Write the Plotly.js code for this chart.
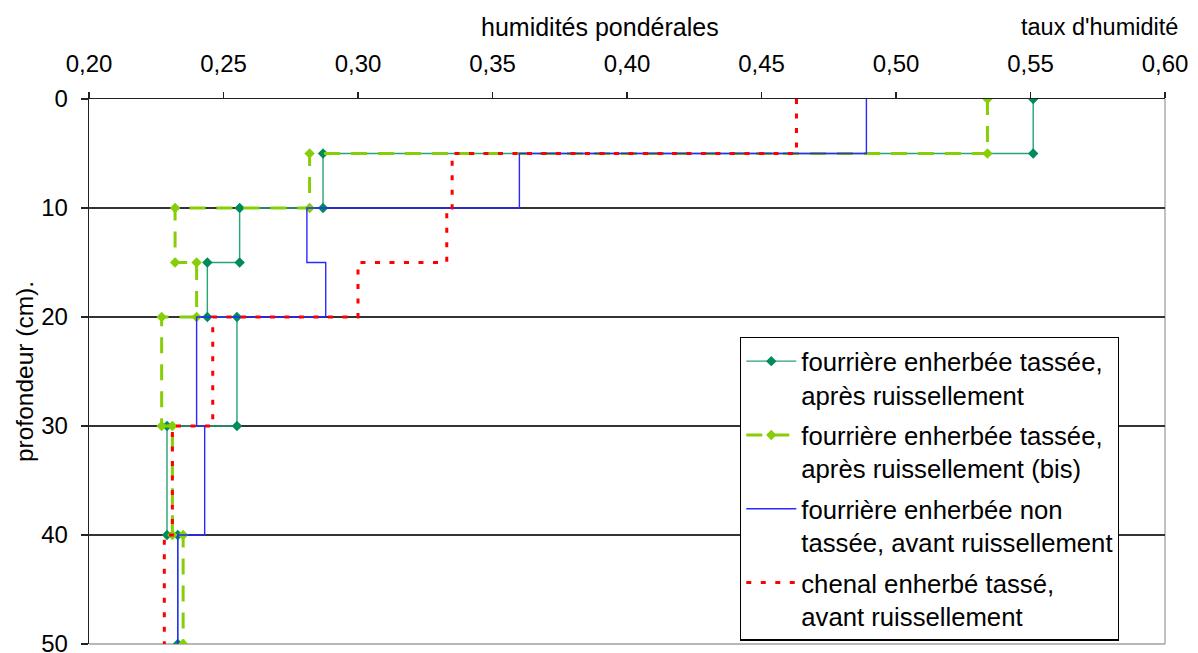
<!DOCTYPE html>
<html>
<head>
<meta charset="utf-8">
<script src="https://cdn.plot.ly/plotly-3.0.1.min.js"></script>
<style>html,body{margin:0;padding:0;background:#fff}#chart{width:1198px;height:653px}</style>
</head>
<body>
<div id="chart"></div>
<script>
// Depth points (cm) of each layer boundary, as in the original data table
const depths = [0, 5, 5, 10, 10, 15, 15, 20, 20, 30, 30, 40, 40, 50];

const seriesNames = [
  "fourrière enherbée tassée,<br>après ruissellement",
  "fourrière enherbée tassée,<br>après ruissellement (bis)",
  "fourrière enherbée non<br>tassée, avant ruissellement",
  "chenal enherbé tassé,<br>avant ruissellement"
];

// humidités pondérales
const fourriereTassee    = [0.551, 0.551, 0.287, 0.287, 0.256, 0.256, 0.244, 0.244, 0.255, 0.255, 0.229, 0.229, 0.233, 0.233];
const fourriereTasseeBis = [0.534, 0.534, 0.282, 0.282, 0.232, 0.232, 0.240, 0.240, 0.227, 0.227, 0.231, 0.231, 0.235, 0.235];
const fourriereNonTassee = [0.489, 0.489, 0.360, 0.360, 0.281, 0.281, 0.288, 0.288, 0.240, 0.240, 0.243, 0.243, 0.233, 0.233];
const chenalTasse        = [0.463, 0.463, 0.335, 0.335, 0.333, 0.333, 0.300, 0.300, 0.246, 0.246, 0.231, 0.231, 0.228, 0.228];

const xTickVals = [0.20, 0.25, 0.30, 0.35, 0.40, 0.45, 0.50, 0.55, 0.60];
const yTickVals = [0, 10, 20, 30, 40, 50];

const FONT = "Liberation Sans, Arial, sans-serif";

const traces = [
  {
    x: fourriereTassee, y: depths, name: seriesNames[0], legendgroup: "a",
    mode: "lines+markers", type: "scatter",
    line: {color: "#25a477", width: 1.4},
    marker: {symbol: "diamond", size: 8, color: "#008c5a"}
  },
  {
    x: fourriereTasseeBis, y: depths, name: seriesNames[1], legendgroup: "b",
    mode: "lines+markers", type: "scatter",
    line: {color: "#86cf08", width: 3, dash: "16px,11px"},
    marker: {symbol: "diamond", size: 8, color: "#86cf08"}
  },
  {
    x: fourriereNonTassee, y: depths, name: seriesNames[2], legendgroup: "c",
    mode: "lines", type: "scatter",
    line: {color: "#2a2aff", width: 1.4}
  },
  {
    x: chenalTasse, y: depths, name: seriesNames[3], legendgroup: "d",
    mode: "lines", type: "scatter",
    line: {color: "#ff0000", width: 3, dash: "5px,9.5px"}
  }
];

const layout = {
  width: 1198, height: 653,
  margin: {l: 89, r: 33, t: 99, b: 9},
  paper_bgcolor: "#ffffff", plot_bgcolor: "#ffffff",
  separators: ", ",
  font: {family: FONT, size: 24, color: "#000"},
  showlegend: true,
  xaxis: {
    side: "top", range: [0.2, 0.6], tickvals: xTickVals, tickformat: ".2f",
    showgrid: false, zeroline: false,
    showline: true, linecolor: "#222", linewidth: 1.3,
    ticks: "outside", ticklen: 6, tickcolor: "#222", tickwidth: 1.3,
    ticklabelstandoff: 10,
    tickfont: {family: FONT, size: 24, color: "#000"}
  },
  yaxis: {
    range: [50, 0], tickvals: yTickVals,
    showgrid: true, gridcolor: "#333", gridwidth: 1.2, zeroline: false,
    showline: true, linecolor: "#222", linewidth: 1.3,
    ticks: "outside", ticklen: 7, tickcolor: "#222", tickwidth: 1.3,
    ticklabelstandoff: 8, ticklabeloverflow: "allow",
    tickfont: {family: FONT, size: 24, color: "#000"},
    title: {text: "profondeur (cm).", font: {family: FONT, size: 24.5, color: "#000"}, standoff: 0}
  },
  legend: {
    x: 0.605, y: 0.564, xanchor: "left", yanchor: "top",
    bgcolor: "#ffffff", bordercolor: "#000", borderwidth: 1.3,
    font: {family: FONT, size: 25.7, color: "#000"},
    valign: "top", itemwidth: 50, tracegroupgap: 4,
    traceorder: "grouped"
  },
  shapes: [
    {type: "line", xref: "paper", yref: "paper", x0: 1, x1: 1, y0: 0, y1: 1, line: {color: "#a0a0a0", width: 1.3}, layer: "below"},
    {type: "line", xref: "paper", yref: "paper", x0: 0, x1: 1, y0: 0, y1: 0, line: {color: "#a0a0a0", width: 1.3}, layer: "below"}
  ],
  annotations: [
    {text: "humidités pondérales", xref: "paper", yref: "paper", x: 0.475, y: 1.132,
     xanchor: "center", yanchor: "middle", showarrow: false, font: {family: FONT, size: 25, color: "#000"}},
    {text: "taux d'humidité", xref: "paper", yref: "paper", x: 0.9387, y: 1.132,
     xanchor: "center", yanchor: "middle", showarrow: false, font: {family: FONT, size: 23.5, color: "#000"}}
  ]
};

Plotly.newPlot("chart", traces, layout, {staticPlot: true, displayModeBar: false});
</script>
</body>
</html>
